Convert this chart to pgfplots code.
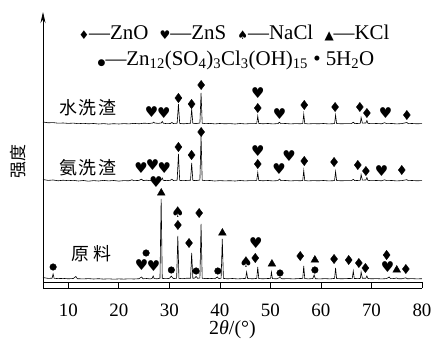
\documentclass[border=0pt]{standalone}
\usepackage{pgfplots}
\pgfplotsset{compat=1.18}
\usepackage{fontspec}
\setmainfont{Liberation Serif}
\newfontfamily\dv{DejaVu Sans}
\newfontfamily\cjk{Noto Sans CJK SC}
\usetikzlibrary{arrows.meta}
\newcommand{\sym}[1]{{\fontsize{12}{12}\selectfont\dv #1}}
\newcommand{\msym}[1]{{\fontsize{15}{15}\selectfont\dv #1}}
\begin{document}
\begin{tikzpicture}
\useasboundingbox (0,0) rectangle (433bp,347bp);
\begin{axis}[
  at={(43bp,59bp)}, anchor=south west, scale only axis,
  width=379bp, height=276bp,
  xmin=5, xmax=80, ymin=0, ymax=276,
  clip=false,
  axis x line=bottom, axis y line=left,
  x axis line style={-, line width=0.8pt},
  y axis line style={-{Stealth[length=11bp,width=5bp]}, line width=0.8pt},
  xtick={10,20,...,80}, ytick=\empty,
  tick align=inside, major tick length=6bp,
  tick style={line width=0.7pt, black},
  /pgf/number format/assume math mode=true,
  xticklabel style={font=\fontsize{19}{19}\selectfont, inner sep=0pt, yshift=-16bp},
  xlabel={2{\itshape θ}/(°)},
  xlabel style={font=\fontsize{20}{20}\selectfont, inner sep=0pt, at={(axis description cs:0.5,0)}, anchor=center, yshift=-42bp},
]
\draw[line width=0.7pt] (axis cs:5,6) -- (axis cs:80,6);
% water-washed residue
\addplot[black, line width=0.6pt] coordinates {
(5,166)(6,165.2)(7,165.4)(8,164.8)(9,165)(10,164.6)(11,164.9)(12,164.3)(13,164.7)(14,164.2)(15,164.5)(16,164)(17,164.4)(18,163.9)(19,164.3)(20,164)(21,164.4)(22,164.1)(23,164.6)(24,164.2)(25,164.8)
(26,164.5)(26.7,165)(26.9,165.8)(27.1,165)(27.8,164.6)
(28.4,165)(28.6,166.5)(28.8,164.8)(29.5,164.3)(30.2,164.5)(30.5,165.5)(30.8,164.5)
(31.55,164.8)(31.8,184)(32.05,164.6)
(32.8,164.2)(33.5,164.5)
(34.2,164.8)(34.42,179)(34.65,164.7)
(35.3,164.4)(36.05,165)(36.28,195)(36.5,164.8)
(37.2,164.3)(38,164.6)(39,164.1)(40,164.5)(41,164.2)(42,164.4)(43,164)(44,164.5)(45,164.1)(46,164.4)(47,164.3)
(47.3,164.8)(47.5,172)(47.7,164.6)
(48.5,164.2)(49.5,164.5)(50.5,164.1)(51.5,164.4)(51.8,165.8)(52.1,164.3)(53,164.5)(54,164.1)(55,164.4)(56,164.2)
(56.4,164.6)(56.6,174)(56.8,164.5)
(57.5,164.1)(58.5,164.4)(59.5,164.2)(60.5,164.5)(61.5,164.1)(62.4,164.3)
(62.7,164.6)(62.9,173)(63.1,164.5)
(64,164.2)(65,164.4)(66,164.3)(66.4,165.8)(66.7,164.4)(67.5,164.6)
(67.8,164.8)(67.95,170.5)(68.2,164.9)(68.9,165)(69.1,167.5)(69.3,164.6)
(70,164.3)(71,164.5)(72,164.2)(72.6,165.3)(73,164.3)(74,164.5)(75,164.1)(76,164.4)(77,165.5)(77.3,164.3)(78,164.5)(79,164.2)(80,164.4)
};
% ammonia-washed residue
\addplot[black, line width=0.6pt] coordinates {
(5,108.5)(6,107.6)(7,108)(8,107.2)(9,107.8)(10,107.3)(11,107.7)(12,107)(13,107.5)(14,106.8)(15,107.4)(16,107)(17,107.6)(18,107.1)(19,107.5)(20,106.9)(21,107.4)(22,107.2)(22.6,108.2)(23,107.3)(24,107.6)(24.5,108.8)(24.8,107.4)(25.5,107.8)(26.2,107.3)(26.7,109)(27,107.5)(27.8,107.8)(28.4,108)(28.6,110)(28.8,107.6)(29.5,107.4)(30.2,107.7)(30.5,108.8)(30.8,107.5)(31.55,107.8)(31.8,134)(32.05,107.6)(32.8,107.3)(33.5,107.6)(34.2,107.8)(34.42,125)(34.65,107.6)(35.3,107.4)(36.05,108)(36.28,152)(36.5,107.8)(37.2,107.3)(38,107.5)(39,107)(40,107.4)(41,107.1)(42,107.3)(43,107)(44,107.5)(45,107.1)(46,107.4)(47,107.3)(47.3,107.8)(47.5,115.5)(47.7,107.6)(48.5,107.2)(49.5,107.5)(50.5,107.1)(51.5,107.4)(51.8,109)(52.1,107.3)(53,107.5)(54,107.1)(55,107.4)(56,107.2)(56.4,107.6)(56.6,117.5)(56.8,107.5)(57.5,107.1)(58.5,107.4)(59.5,107.2)(60.5,107.5)(61.5,107.1)(62.4,107.3)(62.7,107.6)(62.9,116.5)(63.1,107.5)(64,107.2)(65,107.4)(66,107.3)(66.4,108.6)(66.7,107.4)(67.5,107.6)(67.8,107.8)(67.95,113.5)(68.2,107.9)(68.9,108)(69.1,110.5)(69.3,107.6)(70,107.3)(71,107.5)(72,107.2)(72.6,108.2)(73,107.3)(74,107.5)(75,107.1)(76,107.4)(77,108.3)(77.3,107.3)(78,107.5)(79,107.2)(80,107.4)
};
% raw material
\addplot[black, line width=0.6pt] coordinates {
(5,10.5)(6,9.6)(6.8,9.8)(7.0,14)(7.2,9.7)(8,9.4)(9,9.6)(10,9.2)(11,9.5)(11.5,11.5)(11.8,9.3)(13,9.1)(14,9.4)(15,9)(16,9.3)(17,8.9)(18,9.2)(19,8.8)(20,9.1)(21,8.9)(22,9.2)(23,9)(24,9.3)(24.5,11)(24.8,9.2)(25.5,9.5)(26.2,9.1)(26.6,9.6)(26.8,12)(27,9.4)(27.6,9.2)(28.15,9.8)(28.38,89)(28.6,9.6)(29.3,9.3)(30,9.6)(30.4,11.8)(30.8,9.4)(31.45,9.8)(31.68,52)(31.9,9.6)(32.6,9.3)(33.3,9.7)(34.2,9.8)(34.42,35)(34.65,9.6)(35,9.9)(35.3,11.5)(35.6,9.7)(36.05,10)(36.28,64)(36.5,9.8)(37.2,9.4)(38,9.6)(39,9.3)(39.5,11)(39.8,9.4)(40.25,9.8)(40.48,49)(40.7,9.6)(41.5,9.2)(42.5,9.5)(43.5,9.1)(44.5,9.4)(45.1,9.6)(45.3,16)(45.5,9.5)(46.5,9.2)(47.3,9.6)(47.5,21)(47.7,9.5)(48.5,9.2)(49.5,9.5)(50.05,9.6)(50.2,16)(50.4,9.4)(51.2,9.2)(51.9,10.5)(52.3,9.2)(53.5,9.4)(54.5,9.1)(55.5,9.4)(56.4,9.6)(56.6,22)(56.8,9.5)(57.5,9.1)(58.4,9.5)(58.65,13)(58.9,9.3)(59.8,9.1)(60.8,9.4)(61.8,9.1)(62.7,9.6)(62.9,20)(63.1,9.5)(64,9.2)(65,9.4)(66.2,9.6)(66.4,17)(66.6,9.5)(67.4,9.4)(67.8,9.6)(67.95,16)(68.2,9.7)(68.9,9.8)(69.1,12)(69.3,9.5)(70,9.2)(71,9.4)(72,9.1)(73,9.4)(73.5,11)(73.8,9.3)(74.5,9.5)(75,10)(75.3,9.3)(76,9.2)(76.8,10.2)(77.1,9.2)(78,9.4)(79,9.1)(80,9.3)
};
% ZnO diamonds
\addplot[only marks, mark=diamond*, mark size=4.6bp, black] coordinates {
(31.8,190)(34.4,184)(36.3,203)(47.5,180)(56.7,183)(62.8,181)(67.7,181)(69.1,175)(77.0,173)
(31.8,141)(34.4,133)(36.3,156)(47.5,124)(56.7,127)(62.6,126)(67.3,123)(68.9,117)(76.0,118)
(31.7,63)(33.9,45)(35.9,75)(47.0,30)(55.9,32)(62.6,29)(65.5,28)(67.5,25)(68.8,20)(73.0,33)(76.8,19)
};
% ZnS hearts
\addplot[only marks, mark=text, text mark={\msym{♥}}, black] coordinates {
(26.5,176)(28.9,175)(47.5,195)(51.8,174)(72.8,175)
(24.4,120)(26.7,123)(29.0,120)(47.5,137)(51.7,119)(53.7,132)(72.0,117)
(24.5,23)(26.9,22)(27.4,106)(47.1,45)(73.2,21)
};
% NaCl spades
\addplot[only marks, mark=text, text mark={\msym{♠}}, black] coordinates {
(31.7,76)(45.2,26)
};
% KCl triangles
\addplot[only marks, mark=triangle*, mark size=4.5bp, black] coordinates {
(28.4,95)(40.5,55)(50.3,24)(58.8,28)(75.0,18)
};
% basic zinc salt circles
\addplot[only marks, mark=*, mark size=3.3bp, black] coordinates {
(7.0,21)(25.4,35)(30.4,18)(35.3,17)(39.6,17)(51.9,15)(58.8,18)
};
\node[font=\fontsize{18}{18}\selectfont\cjk] at (axis cs:13.9,180) {水\hspace{2bp}洗\hspace{2bp}渣};
\node[font=\fontsize{18}{18}\selectfont\cjk] at (axis cs:13.9,120) {氨\hspace{2bp}洗\hspace{2bp}渣};
\node[font=\fontsize{18}{18}\selectfont\cjk] at (axis cs:14.5,34) {原\hspace{4bp}料};
\end{axis}
\node[font=\fontsize{17}{17}\selectfont\cjk, rotate=90] at (18bp,185bp) {强度};
\node[font=\fontsize{21}{21}\selectfont] at (234bp,314bp) {\sym{♦}—ZnO\hspace{6bp} \sym{♥}—ZnS\hspace{6bp} \sym{♠}—NaCl\hspace{6bp} \sym{▲}—KCl};
\node[font=\fontsize{21}{21}\selectfont] at (236bp,287bp) {{\fontsize{9}{9}\selectfont\dv ●}—Zn\textsubscript{12}(SO\textsubscript{4})\textsubscript{3}Cl\textsubscript{3}(OH)\textsubscript{15} • 5H\textsubscript{2}O};
\end{tikzpicture}
\end{document}
